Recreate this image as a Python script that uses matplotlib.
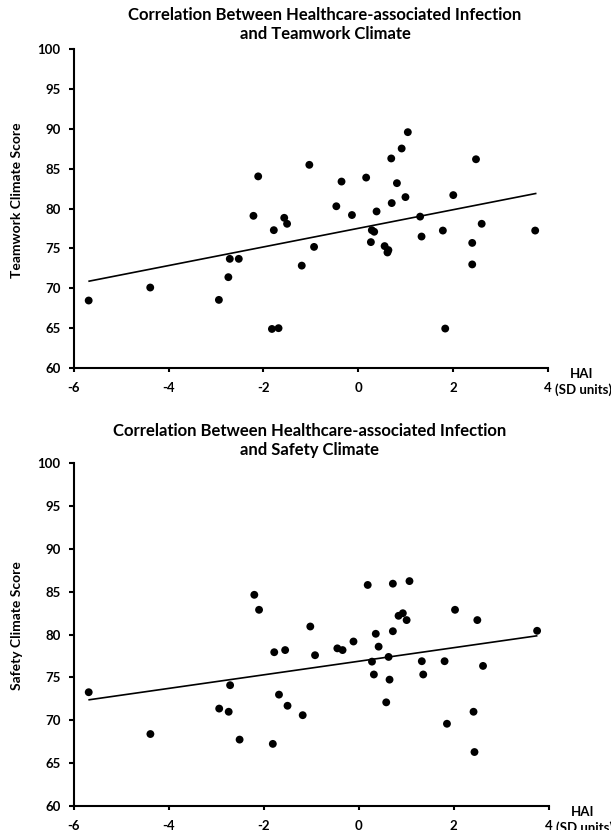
import matplotlib
matplotlib.use('Agg')
import matplotlib.pyplot as plt

# HAI (SD units) vs teamwork climate score
team_x = [-5.69, -4.39, -2.94, -2.74, -2.71, -2.52, -2.21, -2.11, -1.78, -1.82, -1.68, -1.56, -1.50, -1.19,
          -1.03, -0.93, -0.35, -0.46, -0.13, 0.17, 0.39, 0.29, 0.34, 0.27, 0.56, 0.62, 0.64, 0.70, 0.71,
          0.82, 0.92, 1.00, 1.05, 1.31, 1.34, 1.79, 1.84, 2.01, 2.41, 2.41, 2.49, 2.61, 3.74]
team_y = [68.47, 70.1, 68.55, 71.4, 73.7, 73.7, 79.1, 84.05, 77.3, 64.9, 65.0, 78.85, 78.1, 72.85,
          85.5, 75.2, 83.4, 80.3, 79.2, 83.9, 79.65, 77.3, 77.1, 75.8, 75.3, 74.5, 74.8, 86.3, 80.7,
          83.2, 87.55, 81.45, 89.6, 79.0, 76.5, 77.25, 64.95, 81.7, 75.7, 73.0, 86.2, 78.1, 77.25]

# HAI (SD units) vs safety climate score
safe_x = [-5.69, -4.39, -2.94, -2.74, -2.71, -2.51, -2.20, -2.10, -1.78, -1.81, -1.68, -1.55, -1.50, -1.18,
          -1.02, -0.92, -0.45, -0.34, -0.11, 0.19, 0.28, 0.32, 0.36, 0.42, 0.58, 0.63, 0.65, 0.72, 0.72,
          0.84, 0.93, 1.01, 1.07, 1.33, 1.36, 1.81, 1.86, 2.03, 2.42, 2.44, 2.50, 2.62, 3.76]
safe_y = [73.28, 68.4, 71.37, 71.0, 74.1, 67.75, 84.65, 82.9, 77.95, 67.25, 73.0, 78.2, 71.7, 70.6,
          80.95, 77.6, 78.4, 78.2, 79.2, 85.8, 76.85, 75.35, 80.1, 78.6, 72.1, 77.4, 74.75, 85.95, 80.4,
          82.2, 82.5, 81.7, 86.25, 76.9, 75.35, 76.9, 69.6, 82.9, 71.0, 66.3, 81.7, 76.35, 80.45]

# trend lines (end points)
trend_x = [-5.68, 3.75]
team_trend = [70.9, 81.9]
safe_trend = [72.4, 79.86]

x_ticks = [-6, -4, -2, 0, 2, 4]
y_ticks = [60, 65, 70, 75, 80, 85, 90, 95, 100]

W, H = 611, 830
plt.style.use('default')
plt.rcParams['font.family'] = ['Lato', 'DejaVu Sans']
plt.rcParams['axes.unicode_minus'] = False
fig = plt.figure(figsize=(W / 100, H / 100), dpi=100)


def draw_panel(rect, xs, ys, trend, ylabel, title, title_xy, ylabel_xy):
    ax = fig.add_axes(rect)
    ax.scatter(xs, ys, s=32, color='black', edgecolors='none', zorder=3)
    ax.plot(trend_x, trend, color='black', linewidth=1.2)
    ax.set_xlim(-6, 4)
    ax.set_ylim(60, 100)
    ax.set_xticks(x_ticks)
    ax.set_yticks(y_ticks)
    ax.spines['top'].set_visible(False)  # 去掉上边框
    ax.spines['right'].set_visible(False)  # 去掉右边框
    for side in ['left', 'bottom']:
        ax.spines[side].set_linewidth(1.5)
    ax.tick_params(axis='y', direction='out', length=3.6, width=1.5, pad=6, labelsize=9.5)
    ax.tick_params(axis='x', direction='out', length=3, width=1.5, pad=7, labelsize=9.5)
    for lab in ax.get_xticklabels() + ax.get_yticklabels():
        lab.set_fontweight('bold')
    ax.annotate('HAI', xy=(4, 60), xytext=(34, -6), textcoords='offset pixels',
                ha='center', va='center', fontsize=9.5, fontweight='bold', annotation_clip=False)
    ax.annotate('(SD units)', xy=(4, 60), xytext=(36, -22), textcoords='offset pixels',
                ha='center', va='center', fontsize=9.5, fontweight='bold', annotation_clip=False)
    fig.text(ylabel_xy[0] / W, 1 - ylabel_xy[1] / H, ylabel, rotation=90, ha='center', va='center',
             fontsize=10, fontweight='bold')
    fig.text(title_xy[0] / W, 1 - title_xy[1] / H, title, ha='center', va='top',
             fontsize=12, fontweight='bold', linespacing=1.25)
    return ax


draw_panel([74 / W, 1 - 368 / H, 473.5 / W, 318.7 / H], team_x, team_y, team_trend,
           'Teamwork Climate Score',
           'Correlation Between Healthcare-associated Infection\nand Teamwork Climate',
           (325, 7), (17, 200))
draw_panel([74 / W, 1 - 806 / H, 474.5 / W, 342.7 / H], safe_x, safe_y, safe_trend,
           'Safety Climate Score',
           'Correlation Between Healthcare-associated Infection\nand Safety Climate',
           (310, 423), (17, 626))

plt.savefig('out.png', dpi=100)
